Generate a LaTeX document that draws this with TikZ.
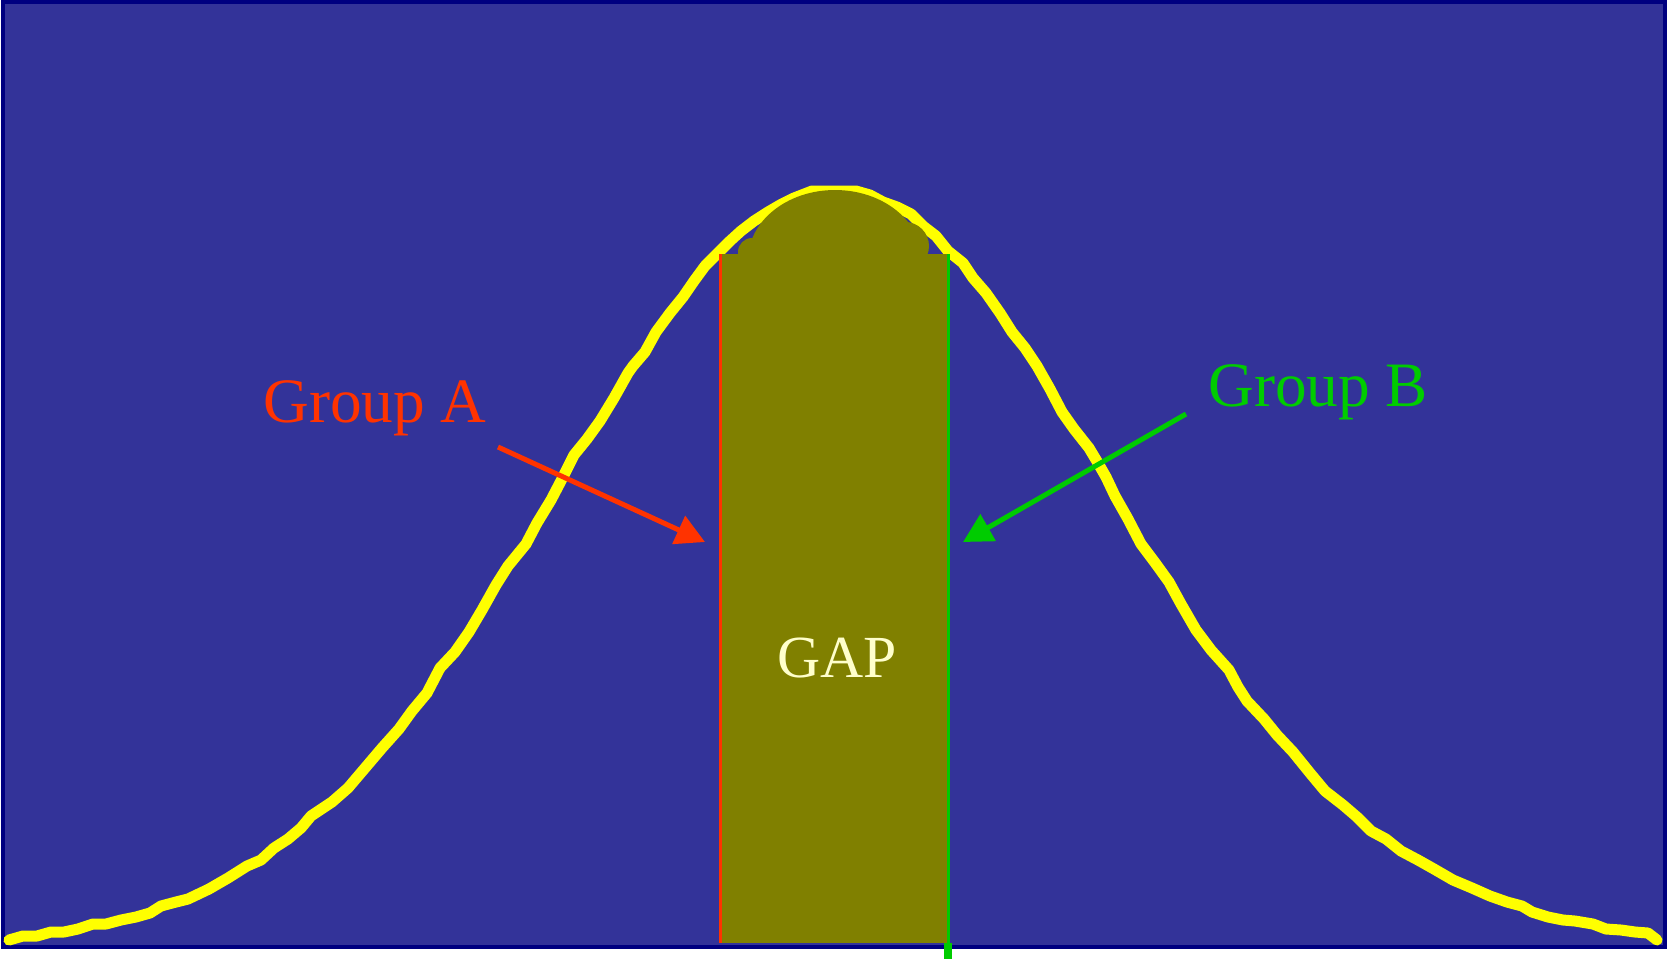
\documentclass[tikz,border=0pt]{standalone}
\usepackage{fontspec}
\setmainfont{Liberation Serif}
\usetikzlibrary{arrows.meta, positioning}

\definecolor{bgblue}{HTML}{333399}
\definecolor{framenavy}{HTML}{000080}
\definecolor{gapolive}{HTML}{808000}
\definecolor{curveyellow}{HTML}{FFFF00}
\definecolor{grpAred}{HTML}{FF3300}
\definecolor{grpBgreen}{HTML}{00CC00}
\definecolor{gaptext}{HTML}{FFFFCC}

\begin{document}
\begin{tikzpicture}[
  x=0.2mm, y=-0.2mm,
  label/.style={inner sep=0pt, anchor=base west, font=\fontsize{36}{40}\selectfont},
  pointer/.style={line width=1mm, -{Triangle[length=5.8mm, width=6mm]}},
  edgeline/.style={line width=0.6mm}
]
% -------------------------------------------------------------------------
% BACKGROUND
% -------------------------------------------------------------------------
\useasboundingbox (0,0) rectangle (1668,959);
\filldraw[fill=bgblue, draw=framenavy, line width=0.8mm] (3,2) rectangle (1665,947);

% -------------------------------------------------------------------------
% DISTRIBUTION CURVE
% -------------------------------------------------------------------------
\draw[curveyellow, line width=2.2mm, line cap=round, line join=round]
  (9,940) -- (23,936) -- (37,936) -- (51,932) -- (64,932) -- (78,929)
  -- (93,924) -- (106,924) -- (121,920) -- (136,917) -- (150,913) -- (161,906)
  -- (176,902) -- (188,899) -- (209,889) -- (228,878) -- (247,866) -- (261,860)
  -- (274,848) -- (288,839) -- (301,828) -- (311,816) -- (332,802) -- (348,788)
  -- (365,768) -- (382,748) -- (399,729) -- (412,711) -- (427,693) -- (440,668)
  -- (455,652) -- (469,632) -- (482,610) -- (496,585) -- (508,566) -- (526,544)
  -- (537,523) -- (551,500) -- (563,477) -- (574,455) -- (587,439) -- (600,421)
  -- (614,398) -- (628,373) -- (633,366) -- (645,352) -- (656,332) -- (670,313)
  -- (683,297) -- (694,281) -- (705,266) -- (716,255) -- (730,241) -- (741,231)
  -- (754,221) -- (768,212) -- (780,205) -- (794,198) -- (812,191) -- (856,191)
  -- (870,195) -- (883,202) -- (897,207) -- (911,214) -- (923,226) -- (936,236)
  -- (948,251) -- (963,263) -- (973,278) -- (986,293) -- (1000,313) -- (1012,332)
  -- (1025,348) -- (1037,366) -- (1050,389) -- (1062,412) -- (1074,429) -- (1089,448)
  -- (1098,463) -- (1106,477) -- (1115,496) -- (1128,519) -- (1141,544) -- (1156,564)
  -- (1169,582) -- (1181,604) -- (1196,630) -- (1211,650) -- (1229,670) -- (1238,687)
  -- (1247,701) -- (1264,719) -- (1277,735) -- (1293,752) -- (1310,773) -- (1325,791)
  -- (1343,805) -- (1357,817) -- (1371,831) -- (1386,839) -- (1401,851) -- (1418,860)
  -- (1434,869) -- (1453,880) -- (1472,888) -- (1490,896) -- (1507,902) -- (1522,906)
  -- (1532,912) -- (1548,917) -- (1563,920) -- (1575,921) -- (1593,924) -- (1606,929)
  -- (1621,930) -- (1635,932) -- (1648,933) -- (1657,940);

% -------------------------------------------------------------------------
% GAP REGION
% -------------------------------------------------------------------------
\fill[gapolive] (720,254) rectangle (948,943);
\fill[gapolive] (835,260) ellipse [x radius=87, y radius=70];
\fill[gapolive] (752,252) circle [radius=14];
\fill[gapolive] (905,246) circle [radius=24];

% -------------------------------------------------------------------------
% GROUP EDGES
% -------------------------------------------------------------------------
\coordinate (edgeA_top) at (720,254);
\coordinate (edgeA_bot) at (720,943);
\coordinate (edgeB_top) at (948,254);
\coordinate (edgeB_bot) at (948,943);
\coordinate (edgeB_tick) at (948,959);
\draw[grpAred, edgeline] (edgeA_top) -- (edgeA_bot);
\draw[grpBgreen, edgeline] (edgeB_top) -- (edgeB_bot);
\draw[grpBgreen, line width=1.6mm] (edgeB_bot) -- (edgeB_tick);

% -------------------------------------------------------------------------
% LABELS AND POINTERS
% -------------------------------------------------------------------------
\node[label, text=grpAred] (grpA) at (263,422) {Group A};
\node[label, text=grpBgreen] (grpB) at (1208,406) {Group B};
\node[label, text=gaptext, font=\fontsize{34}{38}\selectfont] (gaplabel) at (777,677) {GAP};

\coordinate (tailA) at (498,447);
\coordinate (tipA) at (705,542);
\coordinate (tailB) at (1186,414);
\coordinate (tipB) at (963,542);
\draw[pointer, grpAred] (tailA) -- (tipA);
\draw[pointer, grpBgreen] (tailB) -- (tipB);
\end{tikzpicture}
\end{document}
